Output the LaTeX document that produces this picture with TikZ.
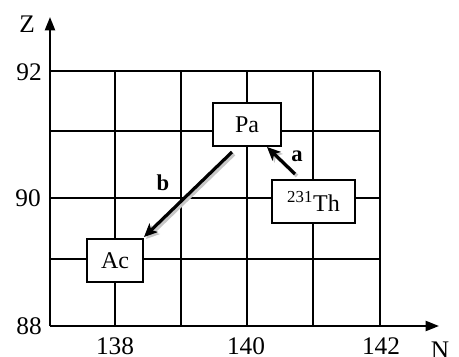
\documentclass[tikz,border=0pt]{standalone}
\usepackage{fontspec}
\setmainfont{Liberation Serif}
\usetikzlibrary{arrows.meta}
\begin{document}
\begin{tikzpicture}[x=0.75pt,y=-0.75pt,
  gridline/.style={line width=1.1pt},
  axisline/.style={line width=1.6pt},
  nucbox/.style={draw,fill=white,line width=1.1pt,minimum height=32pt,inner sep=0pt,font=\fontsize{18}{21}\selectfont},
  ticklbl/.style={font=\fontsize{19}{22}\selectfont},
  declbl/.style={font=\bfseries\fontsize{17}{20}\selectfont},
  decarrow/.style={line width=2.4pt,-{Stealth[length=10pt,width=9pt,inset=2.5pt]}},
  shadowarrow/.style={line width=2.8pt,draw=black!22,-{Stealth[length=10pt,width=9pt,inset=2.5pt]}}]
\useasboundingbox (0,0) rectangle (459,356);
% grid
\foreach \x in {115,181,247,313,380} \draw[gridline] (\x,71) -- (\x,326);
\foreach \y in {71,131,198,259} \draw[gridline] (50,\y) -- (380,\y);
% axes
\coordinate (o) at (50,326);
\coordinate (ztip) at (50,17);
\coordinate (ntip) at (439,326);
\draw[axisline,-{Triangle[length=10pt,width=7.5pt]}] (o) -- (ztip);
\draw[axisline,-{Triangle[length=10pt,width=7.5pt]}] (o) -- (ntip);
\node[ticklbl] (zl) at (27,24) {Z};
\node[ticklbl,anchor=north] (nl) at (440,337) {N};
\node[ticklbl] (t92) at (29,72) {92};
\node[ticklbl] (t90) at (28,198) {90};
\node[ticklbl] (t88) at (29,326) {88};
\node[ticklbl] (t138) at (115,346) {138};
\node[ticklbl] (t140) at (246,346) {140};
\node[ticklbl] (t142) at (381,346) {142};
% nuclide boxes
\node[nucbox,minimum width=51pt] (pa) at (247,124.5) {Pa};
\node[nucbox,minimum width=42pt] (ac) at (115,260.5) {Ac};
\node[nucbox,minimum width=62pt] (th) at (313.5,201.5) {\textsuperscript{231}Th};
% decay arrows
\coordinate (a1) at (295,174);
\coordinate (a2) at (267,147);
\coordinate (b1) at (232,152);
\coordinate (b2) at (144,237);
\draw[shadowarrow] ([shift={(2,2)}]a1) -- ([shift={(2,2)}]a2);
\draw[shadowarrow] ([shift={(2,2)}]b1) -- ([shift={(2,2)}]b2);
\draw[decarrow] (a1) -- (a2);
\draw[decarrow] (b1) -- (b2);
\node[declbl] (la) at (297,156) {a};
\node[declbl] (lb) at (163,183) {b};
\end{tikzpicture}
\end{document}
